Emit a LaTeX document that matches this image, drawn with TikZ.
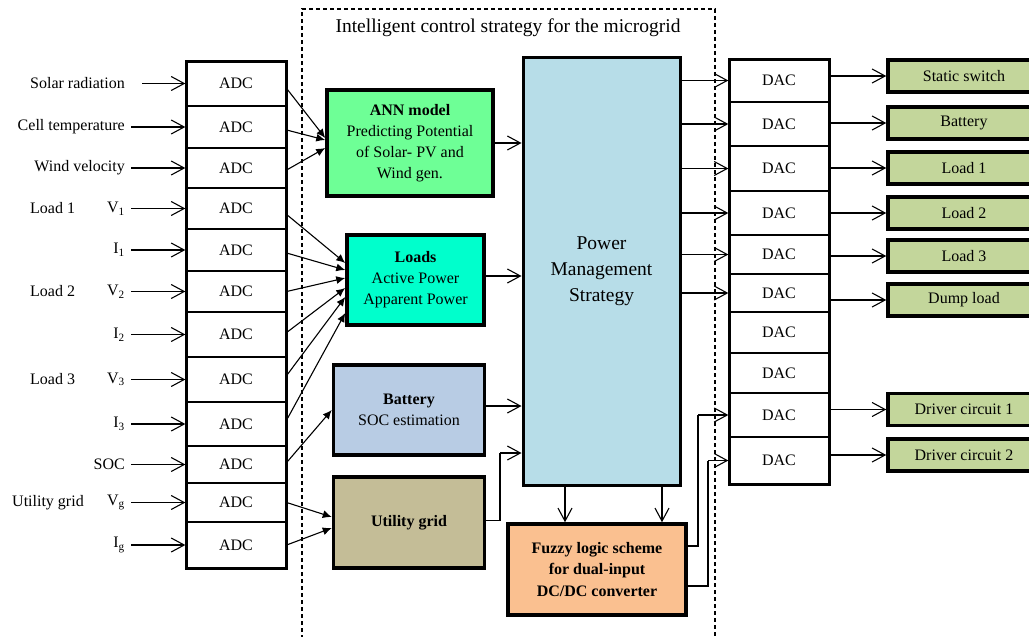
\documentclass[tikz,border=0pt]{standalone}
\usepackage{fontspec}
\setmainfont{Liberation Serif}
\usetikzlibrary{arrows.meta}
\definecolor{anncol}{RGB}{110,255,150}
\definecolor{loadcol}{RGB}{0,255,204}
\definecolor{battcol}{RGB}{184,204,228}
\definecolor{utilcol}{RGB}{196,189,151}
\definecolor{pmscol}{RGB}{183,221,232}
\definecolor{fuzzcol}{RGB}{250,192,144}
\definecolor{outcol}{RGB}{195,214,155}
\begin{document}
\begin{tikzpicture}[x=1pt,y=-1pt,
  txt/.style={font=\fontsize{16}{21}\selectfont},
  cell/.style={draw, line width=1.3pt, minimum width=100pt, inner sep=0pt, txt},
  colframe/.style={draw, line width=3pt, inner sep=0pt, minimum width=100pt},
  blk/.style={draw, line width=3.5pt, inner sep=2pt, align=center, txt},
  outbox/.style={draw, line width=3.5pt, fill=outcol, minimum width=152pt, minimum height=32pt, inner sep=0pt, txt},
  lbl/.style={inner sep=0pt, txt},
  openarrow/.style={line width=1.1pt, -{Straight Barb[length=13pt,width=14pt,line width=1.1pt]}},
  fillarrow/.style={line width=1.1pt, -{Latex[length=9pt,width=8pt]}},
  ctrlline/.style={line width=1.6pt, dash pattern=on 4pt off 3pt}
]
\useasboundingbox (0,0) rectangle (1029,637);
\clip (0,0) rectangle (1029,637);

% dashed control region
\draw[ctrlline] (302,660) -- (302,9) -- (715,9) -- (715,660);
\node[lbl, font=\fontsize{19.5}{24}\selectfont] (title) at (508,28) {Intelligent control strategy for the microgrid};

% ADC column
\foreach \i/\t/\b in {1/61/106,2/106/148,3/148/188,4/188/229,5/229/271,6/271/312,7/312/357,8/357/402,9/402/446,10/446/483,11/483/522,12/522/568}
  \node[cell, minimum height={\b-\t}] (adc\i) at (236,{(\t+\b)/2}) {ADC};
\node[colframe, minimum height=507pt] (adcframe) at (236,314.5) {};

% DAC column
\foreach \i/\t/\b in {1/59/102,2/102/146,3/146/191,4/191/235,5/235/274,6/274/312,7/312/353,8/353/393,9/393/437,10/437/484}
  \node[cell, minimum height={\b-\t}] (dac\i) at (779,{(\t+\b)/2}) {DAC};
\node[colframe, minimum height=425pt] (dacframe) at (779,271.5) {};

% input labels
\node[lbl, anchor=east] (l1) at (125,0 |- adc1.west) {Solar radiation};
\node[lbl, anchor=east] (l2) at (125,0 |- adc2.west) {Cell temperature};
\node[lbl, anchor=east] (l3) at (125,0 |- adc3.west) {Wind velocity};
\node[lbl, anchor=east] (l4) at (125,0 |- adc4.west) {V\textsubscript{1}};
\node[lbl, anchor=east] (l5) at (125,0 |- adc5.west) {I\textsubscript{1}};
\node[lbl, anchor=east] (l6) at (125,0 |- adc6.west) {V\textsubscript{2}};
\node[lbl, anchor=east] (l7) at (125,0 |- adc7.west) {I\textsubscript{2}};
\node[lbl, anchor=east] (l8) at (125,0 |- adc8.west) {V\textsubscript{3}};
\node[lbl, anchor=east] (l9) at (125,0 |- adc9.west) {I\textsubscript{3}};
\node[lbl, anchor=east] (l10) at (125,0 |- adc10.west) {SOC};
\node[lbl, anchor=east] (l11) at (125,0 |- adc11.west) {V\textsubscript{g}};
\node[lbl, anchor=east] (l12) at (125,0 |- adc12.west) {I\textsubscript{g}};
\node[lbl, anchor=west] (g1) at (30,0 |- adc4.west) {Load 1};
\node[lbl, anchor=west] (g2) at (30,0 |- adc6.west) {Load 2};
\node[lbl, anchor=west] (g3) at (30,0 |- adc8.west) {Load 3};
\node[lbl, anchor=west] (g4) at (12,0 |- adc11.west) {Utility grid};

\draw[openarrow, shorten <=17pt] (l1.east) -- (l1.east -| adc1.west);
\foreach \i in {2,...,12}
  \draw[openarrow, shorten <=6pt] (l\i.east) -- (l\i.east -| adc\i.west);

% middle blocks
\node[blk, fill=anncol, minimum width=166pt, minimum height=106pt] (ann) at (410,143)
  {\textbf{ANN model}\\Predicting Potential\\of Solar- PV and\\Wind gen.};
\node[blk, fill=loadcol, minimum width=137pt, minimum height=90pt] (loads) at (415.5,280)
  {\textbf{Loads}\\Active Power\\Apparent Power};
\node[blk, fill=battcol, minimum width=151pt, minimum height=90pt] (batt) at (409,410)
  {\textbf{Battery}\\SOC estimation};
\node[blk, fill=utilcol, minimum width=151pt, minimum height=91pt] (util) at (409,522.5)
  {\textbf{Utility grid}};
\node[blk, line width=3pt, fill=pmscol, minimum width=157pt, minimum height=428pt,
  font=\fontsize{19.5}{26}\selectfont] (pms) at (601.5,271) {Power\\Management\\Strategy};
\node[blk, fill=fuzzcol, minimum width=178pt, minimum height=91pt, font=\fontsize{16}{21.5}\selectfont\bfseries] (fuzzy) at (597,569.5)
  {Fuzzy logic scheme\\for dual-input\\DC/DC converter};

% right output boxes
\node[outbox] (o1) at (964,76) {Static switch};
\node[outbox] (o2) at (964,123) {Battery};
\node[outbox] (o3) at (964,168) {Load 1};
\node[outbox] (o4) at (964,213) {Load 2};
\node[outbox] (o5) at (964,256) {Load 3};
\node[outbox] (o6) at (964,300) {Dump load};
\node[outbox] (o7) at (964,409.5) {Driver circuit 1};
\node[outbox] (o8) at (964,455) {Driver circuit 2};

% ADC -> blocks (filled heads)
\draw[fillarrow] ([yshift=-5pt]adc1.east) -- ([yshift=5pt]ann.west);
\draw[fillarrow] ([yshift=-3pt]adc2.east) -- ([yshift=3pt]ann.west);
\draw[fillarrow] ([yshift=-2pt]adc3.east) -- ([yshift=-5pt]ann.west);
\draw[fillarrow] ([yshift=-6pt]adc4.east) -- ([yshift=17pt]loads.west);
\draw[fillarrow] ([yshift=-3pt]adc5.east) -- ([yshift=10pt]loads.west);
\draw[fillarrow] (adc6.east) -- ([yshift=2pt]loads.west);
\draw[fillarrow] ([yshift=2pt]adc7.east) -- ([yshift=-8pt]loads.west);
\draw[fillarrow] ([yshift=4pt]adc8.east) -- ([yshift=-17pt]loads.west);
\draw[fillarrow] ([yshift=4pt]adc9.east) -- ([yshift=-33pt]loads.west);
\draw[fillarrow] ([yshift=2pt]adc10.east) -- (batt.west);
\draw[fillarrow] (adc11.east) -- ([yshift=5.5pt]util.west);
\draw[fillarrow] (adc12.east) -- ([yshift=-5.5pt]util.west);

% blocks -> PMS
\draw[openarrow] (ann.east) -- (ann.east -| pms.west);
\draw[openarrow] ([yshift=4pt]loads.east) -- ([yshift=4pt]loads.east -| pms.west);
\draw[openarrow] ([yshift=4pt]batt.east) -- ([yshift=4pt]batt.east -| pms.west);
\coordinate (k3) at (500,453);
\draw[line width=1.1pt] ([yshift=2pt]util.east) -| (k3);
\draw[openarrow] (k3) -- (k3 -| pms.west);

% PMS -> fuzzy
\coordinate (d1) at (565,0);
\coordinate (d2) at (662,0);
\draw[openarrow] (pms.south -| d1) -- (fuzzy.north -| d1);
\draw[openarrow] (pms.south -| d2) -- (fuzzy.north -| d2);

% PMS -> DAC
\foreach \i in {1,...,6}
  \draw[openarrow] (dac\i.west -| pms.east) -- (dac\i.west);

% fuzzy -> DAC
\coordinate (k1) at (698,0);
\coordinate (k2) at (708,0);
\draw[line width=1.1pt] ([yshift=23.5pt]fuzzy.east) -| (k1 |- dac9.west);
\draw[openarrow] (k1 |- dac9.west) -- (dac9.west);
\draw[line width=1.1pt] ([yshift=-16.5pt]fuzzy.east) -| (k2 |- dac10.west);
\draw[openarrow] (k2 |- dac10.west) -- (dac10.west);

% DAC -> outputs
\draw[openarrow] (o1.west -| dac1.east) -- (o1.west);
\draw[openarrow] (o2.west -| dac2.east) -- (o2.west);
\draw[openarrow] (o3.west -| dac3.east) -- (o3.west);
\draw[openarrow] (o4.west -| dac4.east) -- (o4.west);
\draw[openarrow] (o5.west -| dac5.east) -- (o5.west);
\draw[openarrow] (o6.west -| dac6.east) -- (o6.west);
\draw[openarrow] (o7.west -| dac9.east) -- (o7.west);
\draw[openarrow] (o8.west -| dac10.east) -- (o8.west);
\end{tikzpicture}
\end{document}
